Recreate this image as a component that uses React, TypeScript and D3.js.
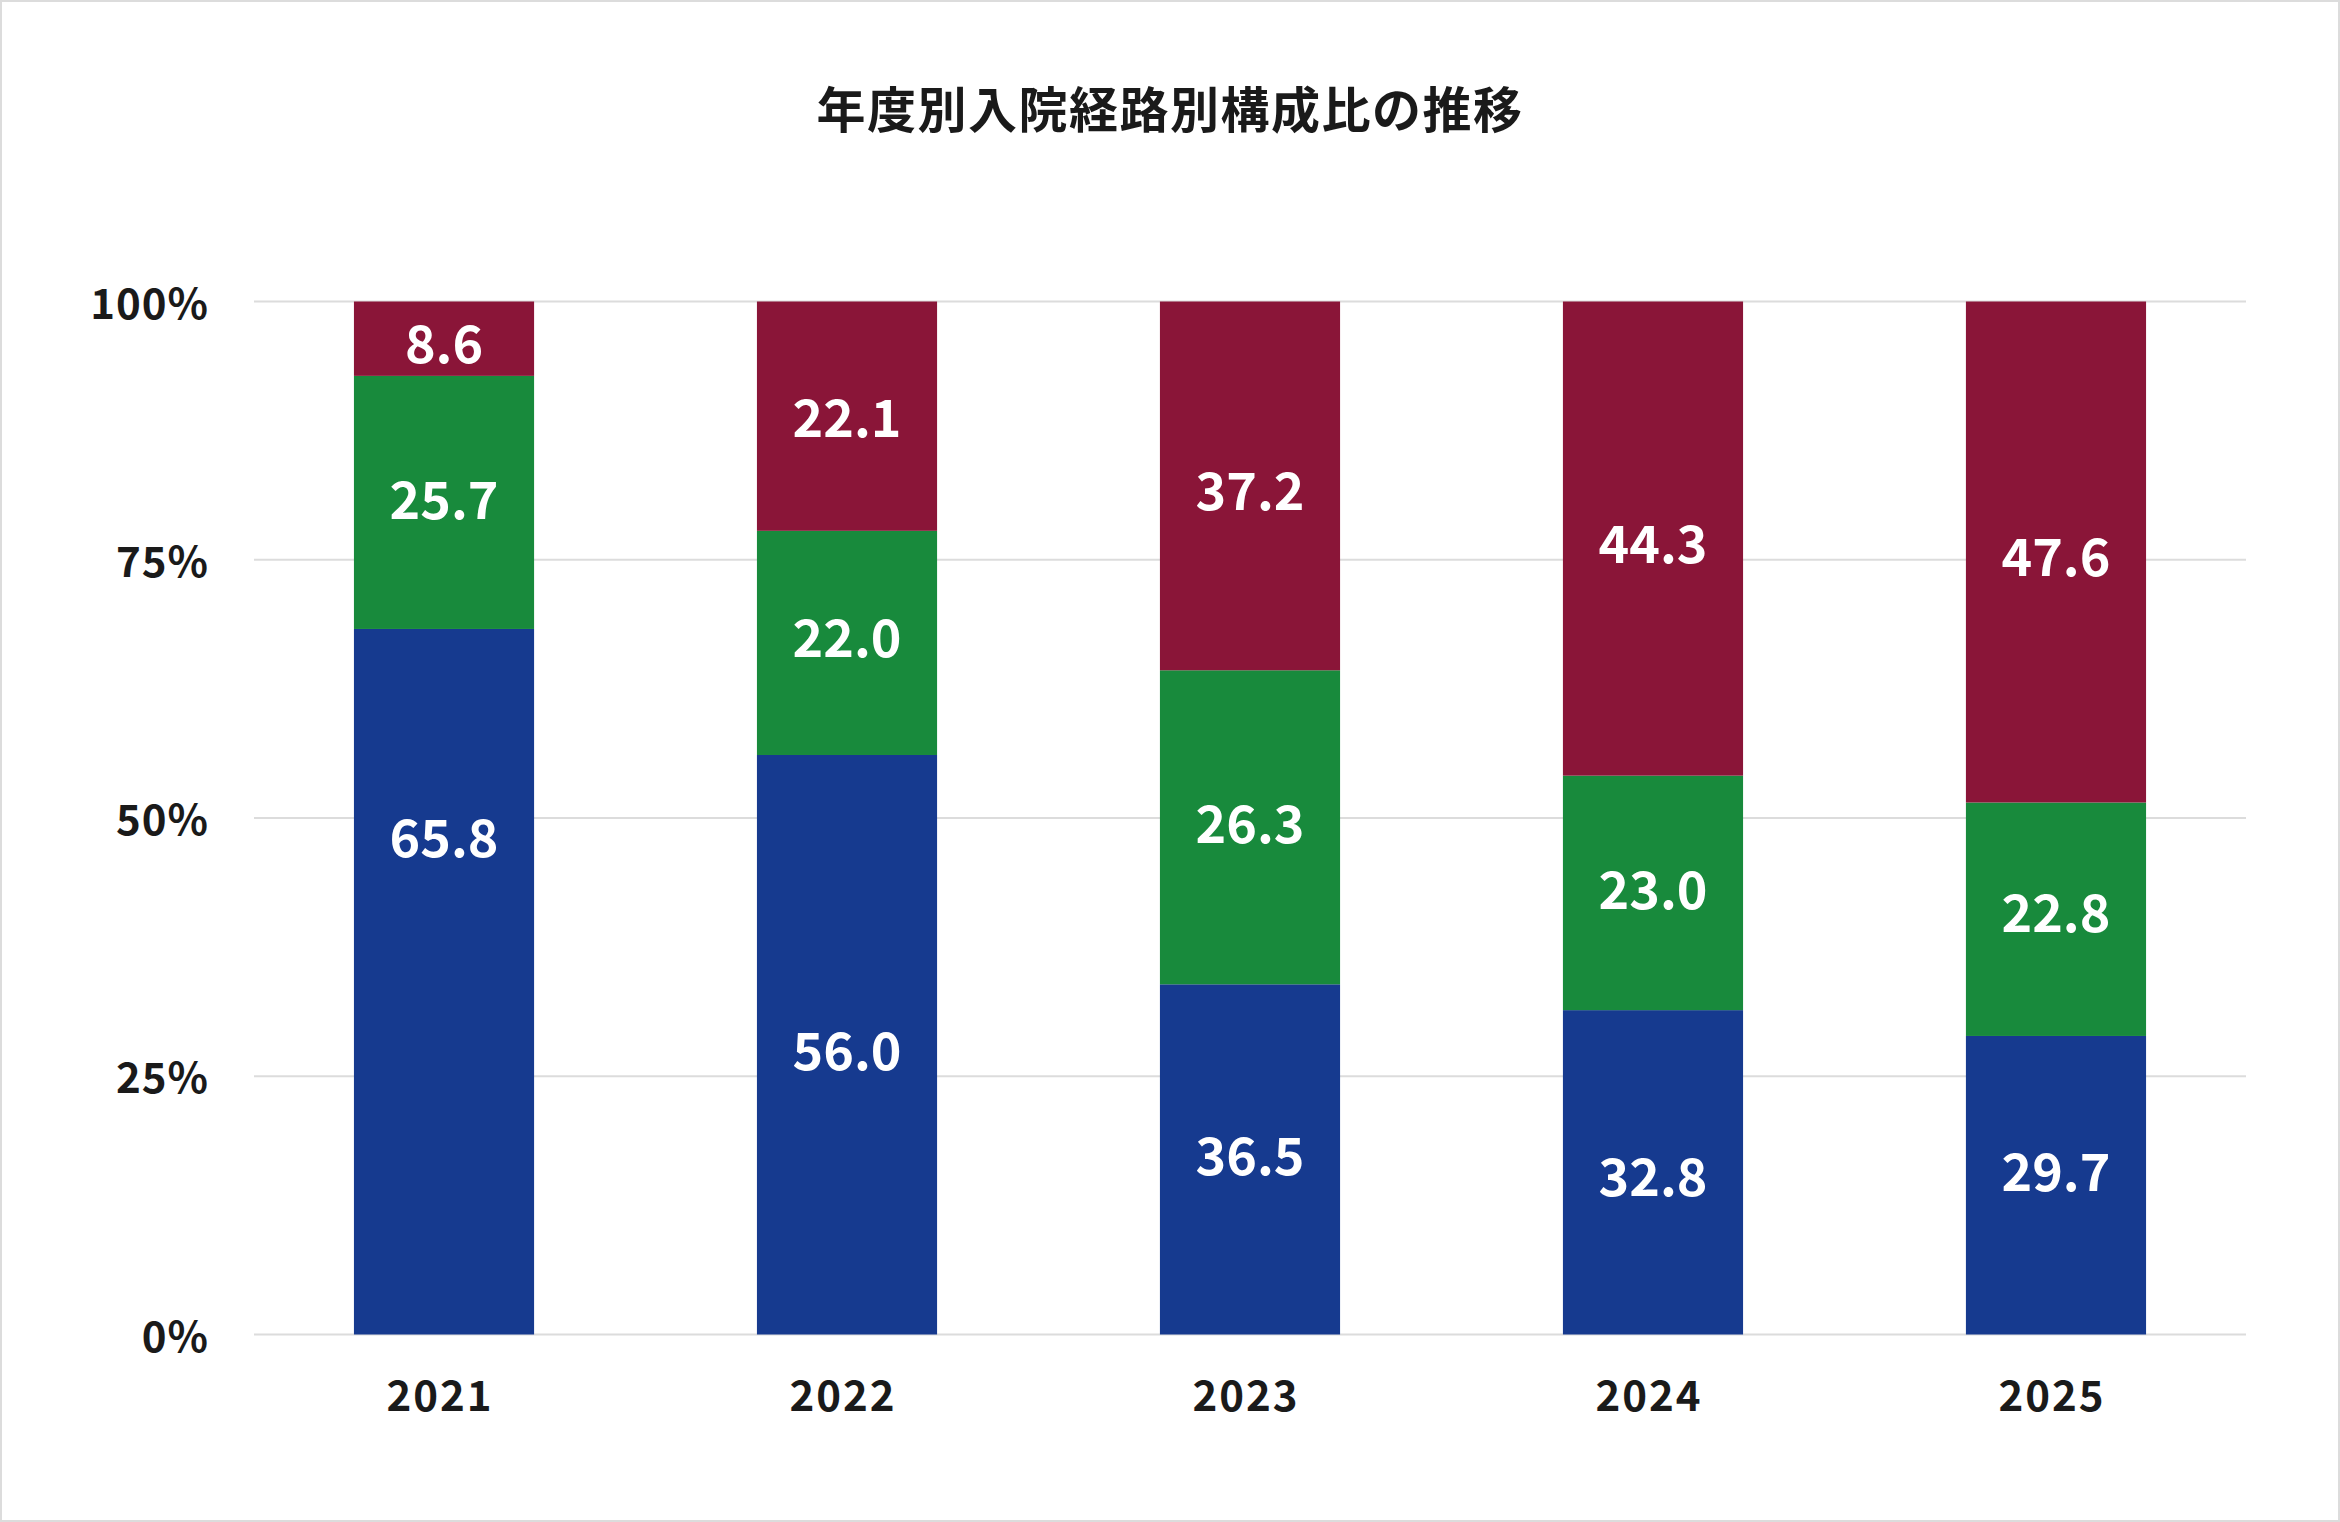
import React from 'react';
import * as d3 from 'd3';

const years = ['2021', '2022', '2023', '2024', '2025'];
const yTicks = [0, 25, 50, 75, 100];

// Bar segment shares as drawn (bottom → top)
const blueShare = [68.3, 56.1, 33.9, 31.4, 28.9];
const greenShare = [24.5, 21.7, 30.4, 22.7, 22.6];
const redShare = [7.2, 22.2, 35.7, 45.9, 48.5];

// Printed value labels
const blueLabel = ['65.8', '56.0', '36.5', '32.8', '29.7'];
const greenLabel = ['25.7', '22.0', '26.3', '23.0', '22.8'];
const redLabel = ['8.6', '22.1', '37.2', '44.3', '47.6'];

// Where each label sits on the % axis
const blueLabelAt = [48.0, 27.4, 17.3, 15.2, 15.7];
const greenLabelAt = [80.8, 67.4, 49.4, 43.0, 40.8];
const redLabelAt = [95.9, 88.7, 81.6, 76.5, 75.2];

const title = '年度別入院経路別構成比の推移';

const W = 2340;
const H = 1522;
const FONT = '"Noto Sans CJK JP", "Noto Sans", sans-serif';

export default function App() {
  const margin = { left: 254, right: 94, top: 301.5, bottom: 187.5 };
  const x = d3
    .scaleBand<string>()
    .domain(years)
    .range([margin.left, W - margin.right])
    .paddingInner(0.553)
    .paddingOuter(0.248);
  const y = d3.scaleLinear().domain([0, 100]).range([H - margin.bottom, margin.top]);

  const series = [
    { key: 'blue', color: '#163a8f', share: blueShare, label: blueLabel, at: blueLabelAt },
    { key: 'green', color: '#188a3c', share: greenShare, label: greenLabel, at: greenLabelAt },
    { key: 'red', color: '#8a1538', share: redShare, label: redLabel, at: redLabelAt },
  ];

  const table = years.map((yr, i) => {
    const row: Record<string, any> = { year: yr };
    series.forEach((s) => (row[s.key] = s.share[i]));
    return row;
  });
  const stacked = d3.stack<any>().keys(series.map((s) => s.key))(table);

  const valFont = 52;
  const axFont = 42;

  return (
    <svg
      width={W}
      height={H}
      style={{ position: 'absolute', left: 0, top: 0, background: '#fff' }}
      fontFamily={FONT}
    >
      <rect x={1} y={1} width={W - 2} height={H - 2} fill="#fff" stroke="#dcdcdc" strokeWidth={2} />
      <text
        x={W / 2}
        y={111 + 0.36 * 48}
        textAnchor="middle"
        fontSize={49}
        fontWeight={700}
        fill="#1a1a1a"
        letterSpacing={1.5}
      >
        {title}
      </text>

      {yTicks.map((t) => (
        <g key={t}>
          <line
            x1={margin.left}
            x2={W - margin.right}
            y1={y(t)}
            y2={y(t)}
            stroke="#dcdcdc"
            strokeWidth={2}
          />
          <text
            x={209}
            y={y(t) + 0.36 * axFont + 2}
            textAnchor="end"
            fontSize={axFont}
            fontWeight={700}
            fill="#1a1a1a"
            letterSpacing={1}
          >
            {t + '%'}
          </text>
        </g>
      ))}

      {stacked.map((layer, si) => (
        <g key={layer.key} fill={series[si].color}>
          {layer.map((d, i) => (
            <rect
              key={i}
              x={x(years[i])}
              width={x.bandwidth()}
              y={y(d[1])}
              height={y(d[0]) - y(d[1])}
            />
          ))}
        </g>
      ))}

      {series.map((s) =>
        years.map((yr, i) => (
          <text
            key={s.key + yr}
            x={(x(yr) as number) + x.bandwidth() / 2}
            y={y(s.at[i]) + 0.36 * valFont}
            textAnchor="middle"
            fontSize={valFont}
            fontWeight={700}
            fill="#fff"
          >
            {s.label[i]}
          </text>
        ))
      )}

      {years.map((yr) => (
        <text
          key={yr}
          x={(x(yr) as number) + x.bandwidth() / 2 - 4}
          y={1395.5 + 0.36 * axFont}
          textAnchor="middle"
          fontSize={axFont}
          fontWeight={700}
          fill="#1a1a1a"
          letterSpacing={2}
        >
          {yr}
        </text>
      ))}
    </svg>
  );
}
